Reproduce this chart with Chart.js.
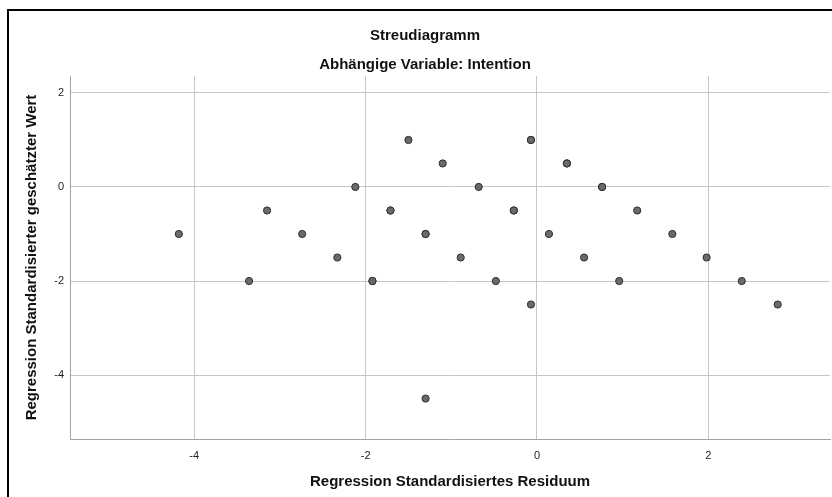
<!DOCTYPE html>
<html>
<head>
<meta charset="utf-8">
<script src="https://cdn.jsdelivr.net/npm/chart.js@4"></script>
<style>
  html, body { margin: 0; padding: 0; background: #fff; overflow: hidden; }
  #rahmen {
    position: absolute; left: 7px; top: 9px;
    width: 900px; height: 600px;
    border: 2px solid #000;
  }
  #streu { position: absolute; left: 10px; top: 12px; }
</style>
</head>
<body>
<div id="rahmen"></div>
<canvas id="streu" width="832" height="485"></canvas>
<script>
// Daten aus dem Streudiagramm (x = Residuum, y = geschätzter Wert)
var residuum = [
  -4.18, -3.36, -3.15, -2.74, -2.33, -2.12, -1.92, -1.92, -1.71, -1.71,
  -1.50, -1.30, -1.30, -1.30, -1.10, -0.89, -0.68, -0.48, -0.27, -0.27,
  -0.07, -0.07, -0.07, 0.14, 0.35, 0.35, 0.55, 0.76, 0.76, 0.96,
  1.17, 1.58, 1.98, 2.39, 2.81
];
var geschaetzt = [
  -1.0, -2.0, -0.5, -1.0, -1.5, 0.0, -2.0, -2.0, -0.5, -0.5,
  1.0, -1.0, -1.0, -4.5, 0.5, -1.5, 0.0, -2.0, -0.5, -0.5,
  1.0, 1.0, -2.5, -1.0, 0.5, 0.5, -1.5, 0.0, 0.0, -2.0,
  -0.5, -1.0, -1.5, -2.0, -2.5
];

// Achsenbeschriftungen
var xTicks = [-4, -2, 0, 2];
var yTicks = [2, 0, -2, -4];

var punkte = residuum.map(function (x, i) {
  return { x: x, y: geschaetzt[i] };
});

var schrift = 'Liberation Sans, Arial, sans-serif';
var ctx = document.getElementById('streu').getContext('2d');

var streuChart = new Chart(ctx, {
  type: 'scatter',
  data: {
    datasets: [{
      data: punkte,
      backgroundColor: '#6a6a6a',
      borderColor: '#2e2e2e',
      borderWidth: 1,
      pointRadius: 3.6,
      pointHoverRadius: 3.6
    }]
  },
  options: {
    responsive: false,
    animation: false,
    devicePixelRatio: 1,
    layout: { padding: { left: 10, right: 12, top: 0, bottom: 0 } },
    plugins: {
      legend: { display: false },
      tooltip: { enabled: false },
      title: {
        display: true,
        text: 'Streudiagramm',
        color: '#111',
        font: { family: schrift, size: 15, weight: 'bold', lineHeight: 1.2 },
        padding: { top: 15, bottom: 0 }
      },
      subtitle: {
        display: true,
        text: 'Abhängige Variable: Intention',
        color: '#111',
        font: { family: schrift, size: 15, weight: 'bold', lineHeight: 1.2 },
        padding: { top: 11, bottom: 2 }
      }
    },
    scales: {
      x: {
        type: 'linear',
        min: -5.45,
        max: 3.42,
        afterBuildTicks: function (scale) {
          scale.ticks = xTicks.map(function (v) { return { value: v }; });
        },
        afterFit: function (scale) { scale.height = 58; },
        grid: { color: '#c6c6c6', lineWidth: 1, drawTicks: false },
        border: { color: '#a3a3a3', width: 1 },
        ticks: {
          padding: 10,
          color: '#222',
          font: { family: schrift, size: 11 }
        },
        title: {
          display: true,
          text: 'Regression Standardisiertes Residuum',
          color: '#111',
          font: { family: schrift, size: 15, weight: 'bold', lineHeight: 1.2 },
          padding: { top: 4, bottom: 6 }
        }
      },
      y: {
        type: 'linear',
        min: -5.36,
        max: 2.36,
        afterBuildTicks: function (scale) {
          scale.ticks = yTicks.map(function (v) { return { value: v }; });
        },
        afterFit: function (scale) { scale.width = 50; },
        grid: { color: '#c6c6c6', lineWidth: 1, drawTicks: false },
        border: { color: '#a3a3a3', width: 1 },
        ticks: {
          padding: 6,
          color: '#222',
          font: { family: schrift, size: 11 }
        },
        title: {
          display: true,
          text: 'Regression Standardisierter geschätzter Wert',
          color: '#111',
          font: { family: schrift, size: 15, weight: 'bold', lineHeight: 1.2 },
          padding: { top: 3, bottom: 4 }
        }
      }
    }
  }
});
</script>
</body>
</html>
